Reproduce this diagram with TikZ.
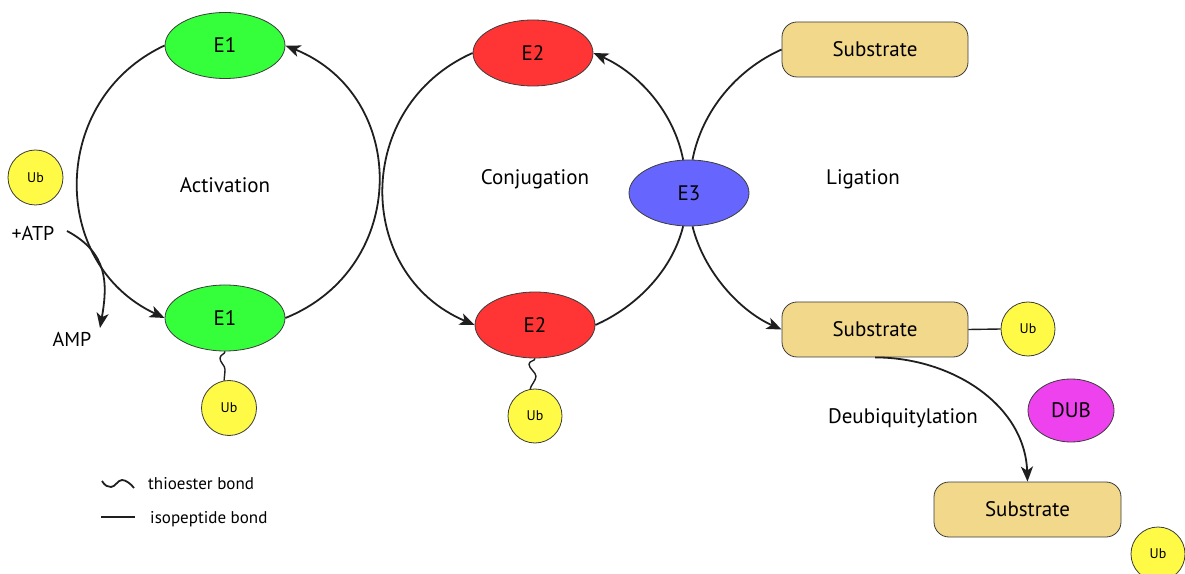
\documentclass[tikz,border=0pt]{standalone}
\usepackage{fontspec}
\setmainfont{PT Sans}
\usetikzlibrary{arrows.meta,shapes.geometric}

\definecolor{egreen}{RGB}{52,255,58}
\definecolor{ered}{RGB}{255,52,52}
\definecolor{eblue}{RGB}{102,102,255}
\definecolor{ubyellow}{RGB}{255,250,70}
\definecolor{subtan}{RGB}{242,216,138}
\definecolor{dubpink}{RGB}{238,66,238}
\definecolor{rim}{RGB}{60,60,60}

\begin{document}
\begin{tikzpicture}[x=1pt,y=1pt,
  enz/.style={ellipse, draw=rim, line width=0.8pt, minimum width=120pt,
    minimum height=66pt, inner sep=0pt, font=\fontsize{21}{23}\selectfont},
  ub/.style={circle, draw=rim, line width=0.8pt, fill=ubyellow,
    minimum size=55pt, inner sep=0pt, font=\fontsize{14}{15}\selectfont},
  sub/.style={rectangle, rounded corners=15pt, draw=rim, line width=0.8pt,
    fill=subtan, minimum width=186pt, minimum height=55pt, inner sep=0pt,
    font=\fontsize{21}{23}\selectfont},
  lbl/.style={inner sep=0pt, font=\fontsize{21}{23}\selectfont},
  side/.style={inner sep=0pt, font=\fontsize{20}{22}\selectfont},
  leg/.style={inner sep=0pt, anchor=west, font=\fontsize{17}{19}\selectfont},
  cyc/.style={line width=1.8pt, draw=black!88},
  tip/.style={-{Stealth[length=15pt,width=12pt,inset=4pt]}},
  bond/.style={line width=1.4pt, draw=black!88},
]
\useasboundingbox (0,0) rectangle (1185,573);
\clip (0,0) rectangle (1185,573);

% enzymes
\node[enz, fill=egreen] (E1t) at (225,527.5) {E1};
\node[enz, fill=egreen] (E1b) at (225,255) {E1};
\node[enz, fill=ered]   (E2t) at (533,520) {E2};
\node[enz, fill=ered]   (E2b) at (535,248) {E2};
\node[enz, fill=eblue]  (E3)  at (689,380) {E3};
\node[enz, fill=dubpink, minimum width=86pt, minimum height=63pt] (DUB) at (1071,162.5) {DUB};

% ubiquitin
\node[ub] (UbL) at (35.5,395.5) {Ub};
\node[ub] (UbA) at (229,165) {Ub};
\node[ub, minimum size=54pt] (UbB) at (535,157) {Ub};
\node[ub, minimum size=54pt] (UbC) at (1028,244) {Ub};
\node[ub, minimum size=54pt] (UbD) at (1158,19) {Ub};

% substrates
\node[sub] (S1) at (875,523.5) {Substrate};
\node[sub] (S2) at (875,243.5) {Substrate};
\node[sub, minimum width=187pt] (S3) at (1027.5,63.5) {Substrate};

% labels
\node[lbl] (act) at (225,388) {Activation};
\node[lbl] (conj) at (535,394) {Conjugation};
\node[lbl] (lig) at (863,394) {Ligation};
\node[lbl] (deub) at (903,155) {Deubiquitylation};
\node[side] (ATP) at (33,340) {+ATP};
\node[side] (AMP) at (72,234) {AMP};

% activation cycle
\draw[cyc, tip] (E1t.west) to[out=205, in=155, looseness=1.2] (E1b.west);
\draw[cyc, tip] (E1b.east) to[out=22, in=-22, looseness=1.26] (E1t.east);

% ATP consumption
\coordinate (atpstart) at (67,342);
\coordinate (amptip) at (100,245);
\draw[cyc, tip] (atpstart) to[out=-28, in=80, looseness=1.15] (amptip);

% conjugation cycle
\draw[cyc, tip] (E2t.west) to[out=204, in=157, looseness=1.23] (E2b.west);
\draw[cyc, tip] (E3.100) to[out=101, in=-24, looseness=0.9] (E2t.east);
\draw[cyc] (E3.-100) to[out=-104, in=24, looseness=0.88] (E2b.east);

% ligation
\draw[cyc] (E3.84) to[out=79, in=-156, looseness=0.89] (S1.west);
\draw[cyc, tip] (E3.-84) to[out=-76, in=156, looseness=0.87] (S2.west);

% deubiquitylation
\draw[cyc, tip] (S2.south) to[out=0, in=92, looseness=1] (S3.north);

% isopeptide bond to substrate
\draw[bond] (S2.east) -- (UbC.west);

% thioester bonds
\draw[bond] (E1b.south) .. controls +(0,-3) and +(0,4) .. ++(-5,-7)
  .. controls +(0,-4) and +(0,4) .. ++(5,-11)
  .. controls +(0,-4) and +(0,3) .. (UbA.100);
\draw[bond] (E2b.south) .. controls +(0,-3) and +(0,4) .. ++(-6,-6)
  .. controls +(0,-4) and +(0,4) .. ++(7,-12)
  .. controls +(0,-4) and +(0,3) .. (UbB.100);

% legend
\draw[bond, line width=1.8pt] (102,92) .. controls (105,87) and (108,86) .. (111,86)
  .. controls (115,86) and (118,93) .. (122,93)
  .. controls (126,93) and (131,89) .. (134,85);
\node[leg] (legthio) at (148,89) {thioester bond};
\draw[bond, line width=1.8pt] (101,56) -- (135,56);
\node[leg] (legiso) at (150,54) {isopeptide bond};
\end{tikzpicture}
\end{document}
